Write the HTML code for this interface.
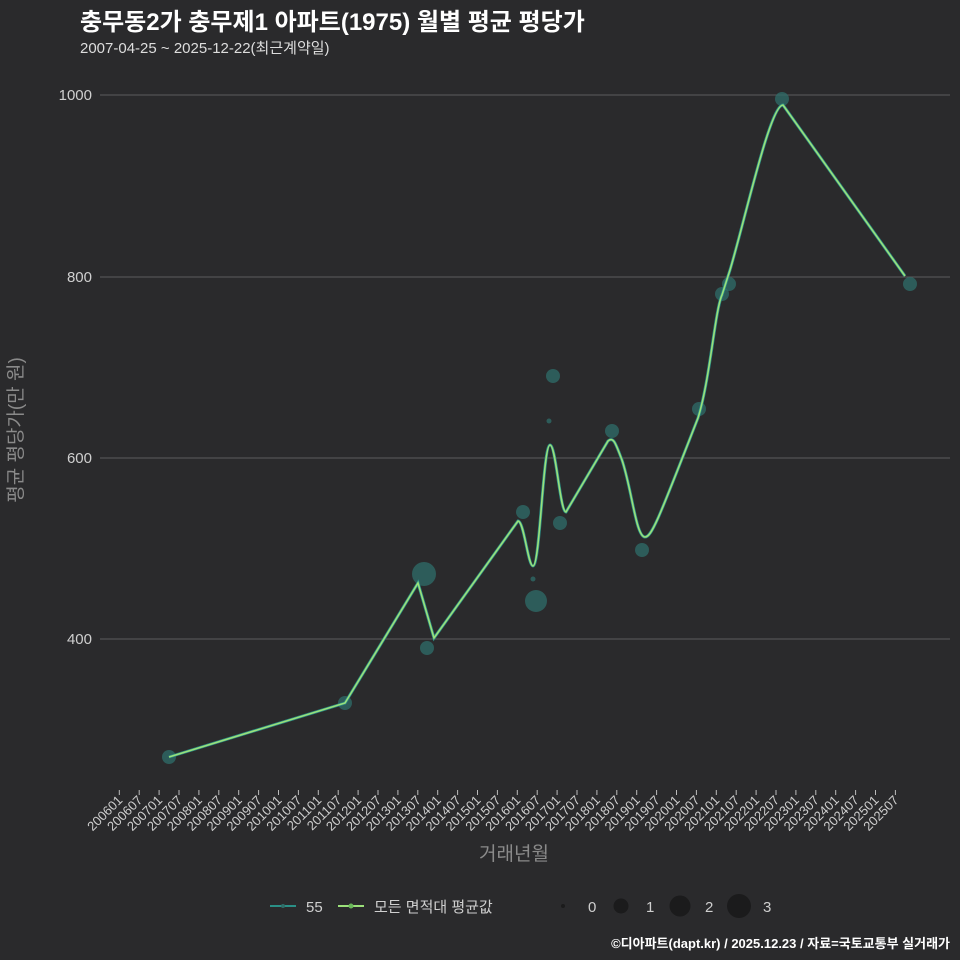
<!DOCTYPE html>
<html><head><meta charset="utf-8"><style>
body{margin:0;background:#2a2a2c;}
svg{display:block}
text{font-family:"Liberation Sans","Noto Sans CJK KR",sans-serif;}
</style></head><body>
<svg width="960" height="960" viewBox="0 0 960 960" xmlns="http://www.w3.org/2000/svg">
<rect width="960" height="960" fill="#2a2a2c"/>
<text x="80" y="30" font-size="24" font-weight="bold" fill="#ffffff">충무동2가 충무제1 아파트(1975) 월별 평균 평당가</text>
<text x="80" y="53" font-size="15" fill="#dddddd">2007-04-25 ~ 2025-12-22(최근계약일)</text>
<g stroke="#5c5c5e" stroke-width="1">
<line x1="100" y1="95" x2="950" y2="95"/>
<line x1="100" y1="277" x2="950" y2="277"/>
<line x1="100" y1="458" x2="950" y2="458"/>
<line x1="100" y1="639" x2="950" y2="639"/>
</g>
<g font-size="15" fill="#cfcfcf" text-anchor="end">
<text x="92" y="100">1000</text><text x="92" y="282">800</text><text x="92" y="463">600</text><text x="92" y="644">400</text>
</g>
<text transform="translate(22,430) rotate(-90)" font-size="19" fill="#8a8a8a" text-anchor="middle">평균 평당가(만 원)</text>
<g id="ticks" stroke="#bbbbbb" stroke-width="1"></g>
<g id="xl" font-size="13" fill="#cfcfcf" text-anchor="end"></g>
<text x="514" y="860" font-size="19" fill="#8a8a8a" text-anchor="middle">거래년월</text>
<g fill="#2f6e69" fill-opacity="0.75">
<circle cx="169" cy="757" r="7"/><circle cx="345" cy="703" r="7"/><circle cx="424" cy="574" r="12"/>
<circle cx="427" cy="648" r="7"/><circle cx="523" cy="512" r="7"/><circle cx="533" cy="579" r="2.5"/>
<circle cx="536" cy="601" r="11"/><circle cx="549" cy="421" r="2.5"/><circle cx="553" cy="376" r="7"/>
<circle cx="560" cy="523" r="7"/><circle cx="612" cy="431" r="7"/><circle cx="642" cy="550" r="7"/>
<circle cx="699" cy="409" r="7"/><circle cx="722" cy="294" r="7"/><circle cx="729" cy="284" r="7"/>
<circle cx="782" cy="99" r="7"/><circle cx="910" cy="284" r="7"/>
</g>
<path d="M169,757 L345,703 L418,583 L434,638 L518,521 C524,521 528,566 533,566 C540,566 543,445 550,445 C556,445 560,512 566,512 L608,441 C614,436 616,445 622,460 C632,490 636,537 645,537 C652,537 660,515 698,418 C710,380 715,310 722,295 L730,270 C745,220 770,105 783,105 L905,276" fill="none" stroke="#2a8f86" stroke-width="3"/>
<path d="M169,757 L345,703 L418,583 L434,638 L518,521 C524,521 528,566 533,566 C540,566 543,445 550,445 C556,445 560,512 566,512 L608,441 C614,436 616,445 622,460 C632,490 636,537 645,537 C652,537 660,515 698,418 C710,380 715,310 722,295 L730,270 C745,220 770,105 783,105 L905,276" fill="none" stroke="#9be07a" stroke-width="1.6"/>
<line x1="270" y1="906" x2="296" y2="906" stroke="#2a8f86" stroke-width="2"/><circle cx="283" cy="906" r="2" fill="#2f6e69"/>
<text x="306" y="912" font-size="15" fill="#cfcfcf">55</text>
<line x1="338" y1="906" x2="364" y2="906" stroke="#9be07a" stroke-width="2"/><circle cx="351" cy="906" r="2.5" fill="#6ab85a"/>
<text x="374" y="912" font-size="15" fill="#cfcfcf">모든 면적대 평균값</text>
<g fill="#1b1b1c"><circle cx="563" cy="906" r="2"/><circle cx="621" cy="906" r="7.5"/><circle cx="680" cy="906" r="10.5"/><circle cx="739" cy="906" r="12"/></g>
<g font-size="15" fill="#cfcfcf"><text x="588" y="912">0</text><text x="646" y="912">1</text><text x="705" y="912">2</text><text x="763" y="912">3</text></g>
<text x="950" y="948" font-size="13" font-weight="bold" fill="#ffffff" text-anchor="end">©디아파트(dapt.kr) / 2025.12.23 / 자료=국토교통부 실거래가</text>
<script>
var t=document.getElementById('ticks'),l=document.getElementById('xl'),ns='http://www.w3.org/2000/svg';
for(var i=0;i<40;i++){var x=119.3+i*19.9;var y=2006+Math.floor(i/2);var lab=y+(i%2?'07':'01');
var ln=document.createElementNS(ns,'line');ln.setAttribute('x1',x);ln.setAttribute('x2',x);ln.setAttribute('y1',790);ln.setAttribute('y2',795);t.appendChild(ln);
var tx=document.createElementNS(ns,'text');tx.setAttribute('transform','translate('+(x+4)+',801) rotate(-45)');tx.textContent=lab;l.appendChild(tx);}
</script>
</svg>
</body></html>
